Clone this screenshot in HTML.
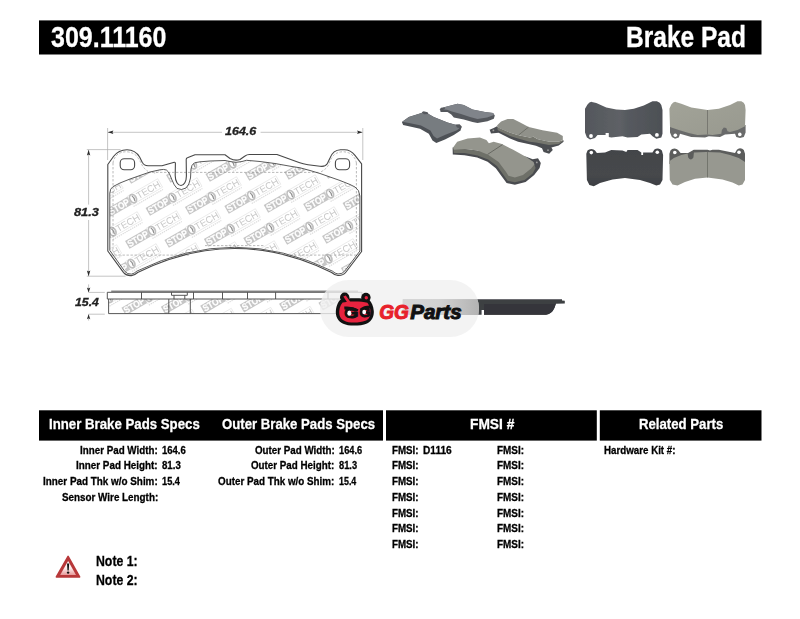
<!DOCTYPE html>
<html>
<head>
<meta charset="utf-8">
<title>309.11160 Brake Pad</title>
<style>
html,body{margin:0;padding:0;background:#fff;}
body{width:800px;height:619px;position:relative;overflow:hidden;font-family:"Liberation Sans",sans-serif;color:#000;}
.abs{position:absolute;}
.bar{position:absolute;background:#000;}
.t{position:absolute;white-space:nowrap;font-weight:bold;line-height:1;transform-origin:0 0;-webkit-text-stroke:.3px currentColor;}
</style>
</head>
<body>
<svg class="abs" style="left:0;top:0;filter:blur(.35px)" width="800" height="400" viewBox="0 0 800 400">
<defs>
  <path id="padout" d="M107.8 251 L107.8 164.5 L113.5 156.5 C116.5 152.4 121 149.7 127 149.7 C132.6 149.7 137 152.6 139.6 157 L142.2 162.2 Q144 165.6 148 165.8 L162 165.8 L174.3 162.3 Q175.4 162.1 175.4 163.6 L175.2 175.6 C175.2 181.4 178 185.5 181 185.5 C184 185.5 186.4 181.4 186.4 176 L186.2 159.6 Q186.2 158.2 187.4 157.8 L195 154.8 L225 154.8 L230 158.5 Q235 161.2 240 159.5 L245 156 Q247 154.5 249.4 154.5 L277 154.5 L299 162.6 Q303 164 308 164.7 L320 166.3 Q325.6 167 327.4 163.6 L330 158 C332 153 336 150 340.5 149.8 L344.5 149.7 C349.5 149.7 352.6 152.4 355 155.4 L361.6 163.8 L361.6 251.5 L346 272 Q343 275.8 338 275.5 Q334.4 275 331.65 272.5 Q234.65 224.5 137.65 272.5 Q135 275 131.4 275.6 Q126.6 276 123.6 272.6 Z"/>
  <path id="padin" d="M109.8 250.4 L109.8 193 Q110 188.6 113 186.6 L120 183 L130 179 L140 175.5 L150 172 L160 169.8 Q164 169 166.4 170 Q168.6 171.4 170 175 L172 180 Q174 185.4 177 188.4 Q181.5 190.8 186 188 Q189.4 185 190.5 178 L191 169 Q191.4 164.6 194.5 162.8 L200 161.8 L210 161 L225 160.5 L230 161.5 Q236 163.2 242 161.5 L246.5 160.3 L260 161.5 L275 163.5 L290 166.2 L300 167.8 L310 170.5 L320 173.5 L330 177 L340 180.5 L350 184.5 L355 187 Q359.4 189.6 359.9 196 L359.9 251 L344.8 271 Q342.4 274.2 338 274 Q335 273.6 332.4 271.1 Q234.65 223.4 136.9 271.1 Q134 273.8 131.4 274.1 Q127.4 274.4 124.9 271.5 Z"/>
  <clipPath id="padclip"><use href="#padin"/></clipPath>
  <clipPath id="sideclip"><rect x="108.6" y="299" width="252.2" height="14.6"/></clipPath>
  <g id="wm">
    <rect x="0" y="-7.3" width="24.6" height="8.9" fill="#c6c6c6"/>
    <text x="1" y="0.3" font-family="Liberation Sans, sans-serif" font-weight="bold" font-size="9.4" fill="#fff" stroke="#fff" stroke-width=".25" textLength="22.6" lengthAdjust="spacingAndGlyphs">STOP</text>
    <rect x="24.6" y="-7.8" width="35.2" height="9.8" fill="none" stroke="#dadada" stroke-width=".5"/>
    <ellipse cx="28.5" cy="-2.9" rx="3.2" ry="4.4" fill="#fff" stroke="#c0c0c0" stroke-width="1.7"/>
    <path d="M28.9 -6 Q30.4 -2.9 28.9 0.2" stroke="#909090" stroke-width="1" fill="none"/>
    <text x="33.2" y="0.5" font-family="Liberation Sans, sans-serif" font-size="9.6" fill="#c9c9c9" textLength="26" lengthAdjust="spacingAndGlyphs">TECH</text>
    <path d="M25 4.2 L59 4.2" stroke="#dcdcdc" stroke-width="1.2" stroke-dasharray="1.4 .8"/>
  </g>
</defs>
<g clip-path="url(#padclip)"><use href="#wm" transform="translate(68.8 281.4) rotate(-30)"/><use href="#wm" transform="translate(87.7 313.4) rotate(-30)"/><use href="#wm" transform="translate(70.4 216.4) rotate(-30)"/><use href="#wm" transform="translate(89.3 248.4) rotate(-30)"/><use href="#wm" transform="translate(108.2 280.4) rotate(-30)"/><use href="#wm" transform="translate(127.1 312.4) rotate(-30)"/><use href="#wm" transform="translate(146.0 344.4) rotate(-30)"/><use href="#wm" transform="translate(72.0 151.4) rotate(-30)"/><use href="#wm" transform="translate(90.9 183.4) rotate(-30)"/><use href="#wm" transform="translate(109.8 215.4) rotate(-30)"/><use href="#wm" transform="translate(128.7 247.4) rotate(-30)"/><use href="#wm" transform="translate(147.6 279.4) rotate(-30)"/><use href="#wm" transform="translate(166.5 311.4) rotate(-30)"/><use href="#wm" transform="translate(185.4 343.4) rotate(-30)"/><use href="#wm" transform="translate(111.4 150.4) rotate(-30)"/><use href="#wm" transform="translate(130.3 182.4) rotate(-30)"/><use href="#wm" transform="translate(149.2 214.4) rotate(-30)"/><use href="#wm" transform="translate(168.1 246.4) rotate(-30)"/><use href="#wm" transform="translate(187.0 278.4) rotate(-30)"/><use href="#wm" transform="translate(205.9 310.4) rotate(-30)"/><use href="#wm" transform="translate(224.8 342.4) rotate(-30)"/><use href="#wm" transform="translate(150.8 149.4) rotate(-30)"/><use href="#wm" transform="translate(169.7 181.4) rotate(-30)"/><use href="#wm" transform="translate(188.6 213.4) rotate(-30)"/><use href="#wm" transform="translate(207.5 245.4) rotate(-30)"/><use href="#wm" transform="translate(226.4 277.4) rotate(-30)"/><use href="#wm" transform="translate(245.3 309.4) rotate(-30)"/><use href="#wm" transform="translate(264.2 341.4) rotate(-30)"/><use href="#wm" transform="translate(190.2 148.4) rotate(-30)"/><use href="#wm" transform="translate(209.1 180.4) rotate(-30)"/><use href="#wm" transform="translate(228.0 212.4) rotate(-30)"/><use href="#wm" transform="translate(246.9 244.4) rotate(-30)"/><use href="#wm" transform="translate(265.8 276.4) rotate(-30)"/><use href="#wm" transform="translate(284.7 308.4) rotate(-30)"/><use href="#wm" transform="translate(303.6 340.4) rotate(-30)"/><use href="#wm" transform="translate(229.6 147.4) rotate(-30)"/><use href="#wm" transform="translate(248.5 179.4) rotate(-30)"/><use href="#wm" transform="translate(267.4 211.4) rotate(-30)"/><use href="#wm" transform="translate(286.3 243.4) rotate(-30)"/><use href="#wm" transform="translate(305.2 275.4) rotate(-30)"/><use href="#wm" transform="translate(324.1 307.4) rotate(-30)"/><use href="#wm" transform="translate(343.0 339.4) rotate(-30)"/><use href="#wm" transform="translate(269.0 146.4) rotate(-30)"/><use href="#wm" transform="translate(287.9 178.4) rotate(-30)"/><use href="#wm" transform="translate(306.8 210.4) rotate(-30)"/><use href="#wm" transform="translate(325.7 242.4) rotate(-30)"/><use href="#wm" transform="translate(344.6 274.4) rotate(-30)"/><use href="#wm" transform="translate(363.5 306.4) rotate(-30)"/><use href="#wm" transform="translate(308.4 145.4) rotate(-30)"/><use href="#wm" transform="translate(327.3 177.4) rotate(-30)"/><use href="#wm" transform="translate(346.2 209.4) rotate(-30)"/><use href="#wm" transform="translate(365.1 241.4) rotate(-30)"/><use href="#wm" transform="translate(347.8 144.4) rotate(-30)"/><use href="#wm" transform="translate(366.7 176.4) rotate(-30)"/></g>
<g clip-path="url(#sideclip)"><g transform="translate(-2 1.6)"><use href="#wm" transform="translate(68.8 281.4) rotate(-30)"/><use href="#wm" transform="translate(87.7 313.4) rotate(-30)"/><use href="#wm" transform="translate(70.4 216.4) rotate(-30)"/><use href="#wm" transform="translate(89.3 248.4) rotate(-30)"/><use href="#wm" transform="translate(108.2 280.4) rotate(-30)"/><use href="#wm" transform="translate(127.1 312.4) rotate(-30)"/><use href="#wm" transform="translate(146.0 344.4) rotate(-30)"/><use href="#wm" transform="translate(72.0 151.4) rotate(-30)"/><use href="#wm" transform="translate(90.9 183.4) rotate(-30)"/><use href="#wm" transform="translate(109.8 215.4) rotate(-30)"/><use href="#wm" transform="translate(128.7 247.4) rotate(-30)"/><use href="#wm" transform="translate(147.6 279.4) rotate(-30)"/><use href="#wm" transform="translate(166.5 311.4) rotate(-30)"/><use href="#wm" transform="translate(185.4 343.4) rotate(-30)"/><use href="#wm" transform="translate(111.4 150.4) rotate(-30)"/><use href="#wm" transform="translate(130.3 182.4) rotate(-30)"/><use href="#wm" transform="translate(149.2 214.4) rotate(-30)"/><use href="#wm" transform="translate(168.1 246.4) rotate(-30)"/><use href="#wm" transform="translate(187.0 278.4) rotate(-30)"/><use href="#wm" transform="translate(205.9 310.4) rotate(-30)"/><use href="#wm" transform="translate(224.8 342.4) rotate(-30)"/><use href="#wm" transform="translate(150.8 149.4) rotate(-30)"/><use href="#wm" transform="translate(169.7 181.4) rotate(-30)"/><use href="#wm" transform="translate(188.6 213.4) rotate(-30)"/><use href="#wm" transform="translate(207.5 245.4) rotate(-30)"/><use href="#wm" transform="translate(226.4 277.4) rotate(-30)"/><use href="#wm" transform="translate(245.3 309.4) rotate(-30)"/><use href="#wm" transform="translate(264.2 341.4) rotate(-30)"/><use href="#wm" transform="translate(190.2 148.4) rotate(-30)"/><use href="#wm" transform="translate(209.1 180.4) rotate(-30)"/><use href="#wm" transform="translate(228.0 212.4) rotate(-30)"/><use href="#wm" transform="translate(246.9 244.4) rotate(-30)"/><use href="#wm" transform="translate(265.8 276.4) rotate(-30)"/><use href="#wm" transform="translate(284.7 308.4) rotate(-30)"/><use href="#wm" transform="translate(303.6 340.4) rotate(-30)"/><use href="#wm" transform="translate(229.6 147.4) rotate(-30)"/><use href="#wm" transform="translate(248.5 179.4) rotate(-30)"/><use href="#wm" transform="translate(267.4 211.4) rotate(-30)"/><use href="#wm" transform="translate(286.3 243.4) rotate(-30)"/><use href="#wm" transform="translate(305.2 275.4) rotate(-30)"/><use href="#wm" transform="translate(324.1 307.4) rotate(-30)"/><use href="#wm" transform="translate(343.0 339.4) rotate(-30)"/><use href="#wm" transform="translate(269.0 146.4) rotate(-30)"/><use href="#wm" transform="translate(287.9 178.4) rotate(-30)"/><use href="#wm" transform="translate(306.8 210.4) rotate(-30)"/><use href="#wm" transform="translate(325.7 242.4) rotate(-30)"/><use href="#wm" transform="translate(344.6 274.4) rotate(-30)"/><use href="#wm" transform="translate(363.5 306.4) rotate(-30)"/><use href="#wm" transform="translate(308.4 145.4) rotate(-30)"/><use href="#wm" transform="translate(327.3 177.4) rotate(-30)"/><use href="#wm" transform="translate(346.2 209.4) rotate(-30)"/><use href="#wm" transform="translate(365.1 241.4) rotate(-30)"/><use href="#wm" transform="translate(347.8 144.4) rotate(-30)"/><use href="#wm" transform="translate(366.7 176.4) rotate(-30)"/></g></g>
<!-- dashed construction lines -->
<g fill="none" stroke="#959595" stroke-width=".65" stroke-dasharray="2.4 1.6">
  <path d="M148 172.4 L320 172.4"/>
  <path d="M113 163 L113 251"/>
  <path d="M356.4 163 L356.4 251"/>
  <path d="M110.5 255.1 L189 255.1 M290 255.1 L359 255.1"/>
  <path d="M205 245.6 L264 245.6"/>
  <path d="M113 163 Q113.6 158 118 154 Q122 151.6 127 151.8 Q133 152.4 136.6 156 Q139.4 159.6 141 163 Q143.6 168.6 148 171.4"/>
  <path d="M356.4 163 Q355.6 158 351 154 Q347 151.6 342 151.8 Q336 152.4 333 156 Q330.4 159.6 329 164 Q326.6 169.4 320 172.2"/>
</g>
<!-- outlines -->
<g fill="none" stroke="#484848" stroke-width="1.1" stroke-linejoin="round">
  <use href="#padout"/>
  <use href="#padin" stroke-width=".9"/>
  <rect x="120.2" y="158.7" width="14.4" height="11" rx="4" ry="4"/>
  <rect x="335.4" y="158.7" width="14.2" height="11" rx="4" ry="4"/>
</g>
<g fill="none" stroke="#444" stroke-width=".9">
  <path d="M111.2 291.3 L358 291.3" stroke="#8a8a8a" stroke-width="1.5"/>
  <path d="M107.3 292.3 L362 292.3 L362 299 L107.3 299 Z"/>
  <path d="M108.6 299 L108.6 313.6 L360.8 313.6 L360.8 299"/>
  <path d="M141.5 292.3 L141.5 299 M193.5 292.3 L193.5 299 M222.5 292.3 L222.5 299 M247.5 292.3 L247.5 299 M275.6 292.3 L275.6 299 M328 292.3 L328 299"/>
  <path d="M171.5 292.3 L171.5 295.3 L187.3 295.3 L187.3 292.3 M174 295.3 L174 299 M184.8 295.3 L184.8 299"/>
  <path d="M168.8 299 L168.8 313.6 M190.3 299 L190.3 313.6"/>
</g>

<g fill="none" stroke="#acacac" stroke-width=".7">
  <path d="M108 132.3 L222 132.3 M260.6 132.3 L362.4 132.3"/>
  <path d="M107.6 128 L107.6 160 M362.8 128 L362.8 160"/>
  <path d="M88.6 150 L88.6 204.6 M88.6 220 L88.6 276"/>
  <path d="M86.8 149.6 L120.6 149.6 M86.8 276.2 L125.6 276.2"/>
  <path d="M88.6 284.4 L88.6 292 M88.6 314.4 L88.6 320.6"/>
  <path d="M88.6 292.4 L104.8 292.4 M88.6 314.2 L104.8 314.2"/>
</g>
<g fill="#2a2a2a" stroke="none">
  <path d="M107.8 132.3 L113.4 130.6 L112.4 132.3 L113.4 134 Z"/>
  <path d="M362.6 132.3 L357 130.6 L358 132.3 L357 134 Z"/>
  <path d="M88.6 149.8 L86.9 155.4 L88.6 154.4 L90.3 155.4 Z"/>
  <path d="M88.6 276.2 L86.9 270.6 L88.6 271.6 L90.3 270.6 Z"/>
  <path d="M88.6 292.4 L86.9 287.4 L88.6 288.4 L90.3 287.4 Z"/>
  <path d="M88.6 314.2 L86.9 319.2 L88.6 318.2 L90.3 319.2 Z"/>
</g>

</svg>

<svg class="abs" style="left:0;top:0" width="800" height="400" viewBox="0 0 800 400">
<defs>
  <filter id="soft" x="-5%" y="-5%" width="110%" height="110%"><feGaussianBlur stdDeviation="0.55"/></filter>
  <linearGradient id="gE" x1="0" y1="0" x2="1" y2="0"><stop offset="0" stop-color="#54575c"/><stop offset=".45" stop-color="#5e6166"/><stop offset=".55" stop-color="#565a5f"/><stop offset="1" stop-color="#4d5055"/></linearGradient>
  <linearGradient id="gG" x1="0" y1="0" x2="0" y2="1"><stop offset="0" stop-color="#434549"/><stop offset=".7" stop-color="#46484c"/><stop offset="1" stop-color="#3c3e41"/></linearGradient>
  <linearGradient id="gF" x1="0" y1="0" x2="1" y2="1"><stop offset="0" stop-color="#a2a398"/><stop offset="1" stop-color="#98998f"/></linearGradient>
</defs>
<g filter="url(#soft)">
<!-- Pad B (upper dark, perspective) -->
<path d="M440 109.4 L445 106.9 L457.5 103.8 L463.8 105 L472.5 109.4 L485 111.9 L493.1 113.1 L494.8 115.6 L493.8 118.8 L487.5 121.3 L477.5 123.1 L472.5 121.9 L463.8 119.4 L453.8 117.5 L451.3 114.4 L447.5 111.9 L440.6 111.9 Z" fill="#55585d"/>
<path d="M441 109.2 L445 106.9 L457.5 103.8 L463.8 105 L472.5 109.4 L485 111.9 L493.1 113.1 L494 115 L487 117.6 L477.5 119 L470 117 L461 114 L452 111.6 L447 109.8 Z" fill="#80848a"/>
<!-- Pad A (left dark, perspective) -->
<path d="M401.9 121.9 L408.8 116.9 L423.1 112.5 L428.1 113.8 L433.8 116.9 L447.5 122.5 L456.3 125 L461.3 126.9 L460.6 130.6 L453.8 135 L445 139.4 L436.3 143.1 L432.5 140.6 L428.8 133.8 L420 128.8 L408.8 126.3 L403.1 125 Z" fill="#4e5156"/>
<path d="M402.2 121.8 L408.8 116.9 L423.1 112.5 L428.1 113.8 L433.8 116.9 L447.5 122.5 L456.3 125 L460.8 126.9 L457 130.2 L446 134.6 L437 138.4 L433.6 136 L430.4 130.4 L421 125.4 L409 123 Z" fill="#777b80"/>
<path d="M421.6 112.2 L423.6 111.2 L427.6 112.2 L428.4 114 L424 114.2 Z" fill="#55585d"/>
<path d="M455.4 124.4 L459.6 124.2 L461.8 126.4 L461.2 128.4 L457 127.4 Z" fill="#55585d"/>
<path d="M439.6 109.6 L441 107.8 L444.4 107.2 L445.2 108.6 L442 110.6 Z" fill="#55585d"/>
<!-- Pad C (right, friction up) -->
<path d="M490.2 129.5 L493.7 127.9 L497 126.2 L499 128 L510 133 L518 135.6 L529.5 138 L537.6 139.6 L549 142 L558.7 142 L563.4 140.6 L563.6 141.7 L558.7 145.6 L551.4 147.4 L552.8 150 L549.2 153.8 L543.6 152 L542 148.2 L536 145.8 L529.5 144.2 L518.1 141.8 L510 138.5 L498.6 132.8 L491 133.4 L489.6 129.6 Z" fill="#4b4d51"/>
<path d="M497 126 L498.6 127.9 L510 132.7 L518.1 135.2 L529.5 137.6 L533.6 136.8 L537.6 139.2 L549 141.7 L558.7 141.7 L563.3 140 L563.3 140.9 L558.7 144.1 L549 144.9 L536 142.5 L529.5 141.7 L518.1 138.4 L510 136 L497.8 130.3 Z" fill="#75766e"/>
<path d="M497 125.4 L501.1 121.4 L507.6 118.9 L513.2 118.9 L519.7 122.2 L528.7 127.1 L542.5 130.3 L557.1 132.7 L562.8 136 L562.8 140.1 L558.7 141.7 L549 141.7 L537.6 139.2 L533.6 136.8 L529.5 137.6 L518.1 135.2 L510 132.7 L498.6 127.9 Z" fill="#90918a"/>
<path d="M528.4 127.2 L518.6 135" stroke="#5f6059" stroke-width=".7" fill="none"/>
<circle cx="493.4" cy="130.4" r=".9" fill="#9c9c9c"/><circle cx="548" cy="150.2" r=".9" fill="#9c9c9c"/>
<!-- Pad D (front, friction up) -->
<path d="M452.6 147.4 L452.8 154.4 L464.5 155.2 L477.2 157.6 L487.6 161.8 L495.8 168.2 L502.2 177 L506.6 183 L514.9 184.8 L525.6 182 L534.2 175 L539.6 168 L540.8 163 L538 158.2 L532.7 159.2 L526.2 156.8 Z" fill="#4a4c4f"/>
<path d="M453.1 147.4 L453.9 153.1 L464.5 153.1 L477.5 155.5 L488.1 159.6 L497 166.1 L503.5 175 L507.6 180.7 L514.9 182.3 L524.6 179.9 L532.7 173.4 L535.6 168 L534.4 164.4 L526.2 157.1 Z" fill="#6e6f68"/>
<path d="M453.1 147.4 L457.2 141.7 L467.7 138.4 L479.9 137.6 L486.4 140.1 L488.9 143.3 L493.7 141.7 L501.9 144.1 L513.2 149.8 L526.2 157.1 L533.6 162 L534.4 164.4 L531.1 168.5 L523 175 L514.9 177.4 L508.4 175.8 L505.9 171.7 L498.6 162 L488.1 154.7 L477.5 150.6 L464.5 149 L453.9 149.8 Z" fill="#94958d"/>
<path d="M502.5 144.6 L487.6 154.4" stroke="#5c5d57" stroke-width=".8" fill="none"/>
<circle cx="536.8" cy="162.4" r=".9" fill="#9c9c9c"/>
<!-- Pad E (top-left of flat group) -->
<path d="M585 108.8 L587.5 104.4 Q589.6 101.6 591.9 101.9 L596.3 103.1 L606.3 107.5 L616.3 109.4 L625 110 L633.8 108.8 L643.8 105.6 L652.5 101.3 L656.9 101.3 Q660.4 102.6 661.3 105 L662.5 110 L662.5 133.8 L661.3 137.5 L656.3 138.8 L652.5 136.3 L650 133.8 L641.3 134.4 L637.5 136.9 L627.5 137.5 L622.5 136.3 L611.3 137.5 L608.8 136.9 L608.8 133.1 L605.6 133.1 L605.6 135 L597.5 135 L595 138.1 L590 139.4 L586.9 137.5 L585 132.5 Z" fill="url(#gE)"/>
<circle cx="591" cy="136" r="1.9" fill="#fff"/><circle cx="656.9" cy="134.9" r="1.9" fill="#fff"/>
<!-- Pad F (top-right, friction) -->
<path d="M670 126 L670 132.5 L671.9 136.9 L675 138.8 L678.8 137.5 L680 133.8 L691.3 136.9 L705 137.5 L708.8 136.3 L720 136.9 L725 134.4 L735 133.8 L736.3 136.9 L740 138.1 L743.8 136.9 L745.6 132.5 L745.6 125 Z" fill="#696b6a"/>
<path d="M669.4 108.8 L671.3 104.4 Q673.4 101.6 675.6 101.9 L681.3 103.8 L691.3 107.5 L707.5 110 L718.8 108.8 L730 105 L737.5 101.3 L741.3 101.3 Q744.2 102.4 745 105 L745.6 110 L745 126.3 L737.5 130 L730 131.9 L727.5 131.3 L726.3 128.1 L723.8 127.5 L721.9 130 L721.3 133.8 L712.5 135 L707.5 134.4 L697.5 135 L688.8 133.1 L678.8 130 L670 126.9 Z" fill="url(#gF)"/>
<path d="M707.5 110 L707.5 134.4" stroke="#6e6f68" stroke-width=".8" fill="none"/>
<circle cx="675.3" cy="135.2" r="1.8" fill="#fff"/><circle cx="739.8" cy="134.4" r="1.8" fill="#fff"/>
<!-- Pad G (bottom-left, dark) -->
<path d="M586.3 153.8 L587.5 150.6 Q589 149 591.3 149 Q593.8 149.2 595 150.6 L596.9 153.1 L605 152.5 L611.3 150 L622.5 150.6 L626.3 151.9 L627.5 150 L637.5 150 L641.3 152.5 L641.3 155 L643.1 155 L643.1 152.5 L652.5 152.5 L654.4 149.4 Q656 148.4 658.1 148.5 Q660.6 149 661.9 150.6 L663.1 155 L662.5 180 L660 184.4 L656.3 185.6 L650 183.1 L640 180 L625 178.1 L612.5 179.4 L600 183.1 L593.8 186.3 L589.4 185 L586.9 180 Z" fill="url(#gG)"/>
<circle cx="591.3" cy="152.6" r="1.8" fill="#fff"/><circle cx="657.3" cy="152.3" r="1.8" fill="#fff"/>
<!-- Pad H (bottom-right, friction) -->
<path d="M669.4 153.8 L670.6 150.3 Q672 148.6 674.4 148.5 Q676.8 148.8 678.1 150 L680.6 153.1 L688.1 153.1 L692.5 150.6 L693.8 149.8 L707.5 149.8 L710 150.6 L712.5 149.8 L718.8 149.8 L735 153.1 L736.9 149.8 Q738.2 148.4 740 148.3 Q742.4 148.6 743.8 150 L745 153.8 L745 164 L669.4 164 Z" fill="#5b5d5c"/>
<path d="M669.4 161.3 L673.8 158.1 L681.3 155 L687.6 153.6 L688.2 157.6 Q690.8 161.6 693.4 157.6 L693.9 152.4 L706.3 151.9 L720 152.5 L730 155 L738.8 158.1 L745 161.9 L745 180 L742.5 184.4 L738.8 185.6 L732.5 182.5 L722.5 179.4 L707.5 177.5 L695 178.8 L685 181.9 L677.5 185.6 L672.5 184.4 L669.8 180 Z" fill="#979890"/>
<path d="M707.5 151.6 L707.5 177.5" stroke="#6a6b64" stroke-width=".8" fill="none"/>
<circle cx="674.8" cy="152.5" r="1.8" fill="#fff"/><circle cx="739" cy="152.3" r="1.8" fill="#fff"/>
<!-- side profile photo -->
<path d="M403 299.2 L562 299.2 L562 300.6 L564.8 300.8 L564.8 303.4 L556 303.8 L554.4 308 Q552 313.6 546 314.8 L484 314.8 L484 310 L481.6 310 L481.6 314.8 L403 314.8 Z" fill="#3d3f43"/>
<path d="M484 304 L555.6 304 L554.4 308 Q552 313.6 546 314.8 L484 314.8 Z" fill="#34363a"/>
</g>
</svg>

<div class="abs" style="left:320px;top:280.3px;width:159px;height:57px;border-radius:28.5px;background:rgba(240,240,240,.8);"></div>
<svg class="abs" style="left:0;top:0" width="800" height="400" viewBox="0 0 800 400">
<defs><linearGradient id="strip" x1="0" y1="0" x2="1" y2="0"><stop offset="0" stop-color="#d6d6d6"/><stop offset=".45" stop-color="#d2d2d2"/><stop offset="1" stop-color="#b0b0b0"/></linearGradient>
<clipPath id="pillclip"><rect x="320" y="280.3" width="159" height="57" rx="28.5" ry="28.5"/></clipPath></defs>
<rect x="402.6" y="299.2" width="80" height="15.8" fill="url(#strip)" clip-path="url(#pillclip)"/>
<g>
  <circle cx="344.7" cy="297.2" r="4.7" fill="#111"/>
  <circle cx="365.9" cy="297.5" r="4.7" fill="#111"/>
  <path d="M340 300 C336.5 304 335.4 310 336 314.5 C336.8 320 341 324 348 325.2 C354 326 362 325.6 367 323.4 C372 321 374.2 316 373.8 311 C373.4 306 371.6 302.6 369.4 300 C364 297.8 346 297.8 340 300 Z" fill="#111"/>
  <path d="M342.6 302.6 C339.8 305.8 338.9 310 339.3 314 C339.9 318.4 343 321.2 348.6 322.2 C354 323 361 322.6 365.2 320.8 C369.2 319 370.8 315.4 370.6 311.4 C370.2 307.6 369 304.8 367.4 302.8 C362 301 347.6 301 342.6 302.6 Z" fill="#e6233f"/>
  <path d="M343.3 296.6 L347.6 303 L350.4 302 L345.8 295.4 Z" fill="#e6233f"/>
  <circle cx="366.3" cy="297.8" r="1.7" fill="#e6233f"/>
  <path d="M344.2 306.6 Q352 305.8 358.6 309.4 L357 311.6 L344.4 309.6 Z" fill="#111"/>
  <path d="M370 305.6 Q363.6 305.6 359.6 309 L361.4 311 L370.2 308.4 Z" fill="#111"/>
  <text x="344.3" y="318.4" font-family="Liberation Sans, sans-serif" font-weight="bold" font-size="15" fill="#111" stroke="#111" stroke-width="1.1" textLength="14" lengthAdjust="spacingAndGlyphs">G</text>
  <text x="359.4" y="317.2" font-family="Liberation Sans, sans-serif" font-weight="bold" font-size="13.4" fill="#111" stroke="#111" stroke-width="1.1" textLength="11" lengthAdjust="spacingAndGlyphs">G</text>
  <ellipse cx="349.3" cy="313.2" rx="2" ry="2.6" fill="#fff"/>
  <ellipse cx="364.2" cy="312" rx="1.9" ry="2.3" fill="#fff"/>
</g>
<text x="379.2" y="318.8" font-family="Liberation Sans, sans-serif" font-weight="bold" font-style="italic" font-size="20.2" fill="#e8212b" stroke="#e8212b" stroke-width="1" textLength="29.6" lengthAdjust="spacingAndGlyphs">GG</text>
<text x="410.2" y="318.8" font-family="Liberation Sans, sans-serif" font-weight="bold" font-style="italic" font-size="20.2" fill="#111" stroke="#111" stroke-width="1" textLength="51.4" lengthAdjust="spacingAndGlyphs">Parts</text>
</svg>

<svg class="abs" style="left:0;top:0" width="800" height="619" viewBox="0 0 800 619">
<rect x="39" y="20.4" width="722.5" height="34.1" fill="#000"/>
<rect x="39" y="410.3" width="344" height="30.3" fill="#000"/>
<rect x="386" y="410.3" width="210.8" height="30.3" fill="#000"/>
<rect x="599.8" y="410.3" width="161.7" height="30.3" fill="#000"/>
</svg>
<div class="t" style="left:51.00px;top:22.33px;font-size:29.5px;transform:scaleX(0.8469);color:#fff;">309.11160</div>
<div class="t" style="left:626.17px;top:22.03px;font-size:29.5px;transform:scaleX(0.8314);color:#fff;">Brake Pad</div>
<div class="t" style="left:48.55px;top:415.78px;font-size:15.5px;transform:scaleX(0.8535);color:#fff;">Inner Brake Pads Specs</div>
<div class="t" style="left:222.00px;top:415.78px;font-size:15.5px;transform:scaleX(0.8499);color:#fff;">Outer Brake Pads Specs</div>
<div class="t" style="left:469.71px;top:415.78px;font-size:15.5px;transform:scaleX(0.8879);color:#fff;">FMSI #</div>
<div class="t" style="left:638.85px;top:415.78px;font-size:15.5px;transform:scaleX(0.8507);color:#fff;">Related Parts</div>
<div class="t" style="left:80.00px;top:444.79px;font-size:11px;transform:scaleX(0.8901);">Inner Pad Width:</div>
<div class="t" style="left:76.10px;top:460.49px;font-size:11px;transform:scaleX(0.8960);">Inner Pad Height:</div>
<div class="t" style="left:43.00px;top:476.19px;font-size:11px;transform:scaleX(0.8979);">Inner Pad Thk w/o Shim:</div>
<div class="t" style="left:61.50px;top:491.89px;font-size:11px;transform:scaleX(0.8951);">Sensor Wire Length:</div>
<div class="t" style="left:161.60px;top:444.79px;font-size:11px;transform:scaleX(0.8647);">164.6</div>
<div class="t" style="left:161.60px;top:460.49px;font-size:11px;transform:scaleX(0.8783);">81.3</div>
<div class="t" style="left:161.60px;top:476.19px;font-size:11px;transform:scaleX(0.8389);">15.4</div>
<div class="t" style="left:254.50px;top:444.79px;font-size:11px;transform:scaleX(0.8892);">Outer Pad Width:</div>
<div class="t" style="left:251.10px;top:460.49px;font-size:11px;transform:scaleX(0.8897);">Outer Pad Height:</div>
<div class="t" style="left:218.00px;top:476.19px;font-size:11px;transform:scaleX(0.8933);">Outer Pad Thk w/o Shim:</div>
<div class="t" style="left:338.90px;top:444.79px;font-size:11px;transform:scaleX(0.8428);">164.6</div>
<div class="t" style="left:338.90px;top:460.49px;font-size:11px;transform:scaleX(0.8454);">81.3</div>
<div class="t" style="left:338.90px;top:476.19px;font-size:11px;transform:scaleX(0.8075);">15.4</div>
<div class="t" style="left:392.00px;top:444.79px;font-size:11px;transform:scaleX(0.8881);">FMSI:</div>
<div class="t" style="left:496.60px;top:444.79px;font-size:11px;transform:scaleX(0.9018);">FMSI:</div>
<div class="t" style="left:392.00px;top:460.49px;font-size:11px;transform:scaleX(0.8881);">FMSI:</div>
<div class="t" style="left:496.60px;top:460.49px;font-size:11px;transform:scaleX(0.9018);">FMSI:</div>
<div class="t" style="left:392.00px;top:476.19px;font-size:11px;transform:scaleX(0.8881);">FMSI:</div>
<div class="t" style="left:496.60px;top:476.19px;font-size:11px;transform:scaleX(0.9018);">FMSI:</div>
<div class="t" style="left:392.00px;top:491.89px;font-size:11px;transform:scaleX(0.8881);">FMSI:</div>
<div class="t" style="left:496.60px;top:491.89px;font-size:11px;transform:scaleX(0.9018);">FMSI:</div>
<div class="t" style="left:392.00px;top:507.59px;font-size:11px;transform:scaleX(0.8881);">FMSI:</div>
<div class="t" style="left:496.60px;top:507.59px;font-size:11px;transform:scaleX(0.9018);">FMSI:</div>
<div class="t" style="left:392.00px;top:523.29px;font-size:11px;transform:scaleX(0.8881);">FMSI:</div>
<div class="t" style="left:496.60px;top:523.29px;font-size:11px;transform:scaleX(0.9018);">FMSI:</div>
<div class="t" style="left:392.00px;top:538.99px;font-size:11px;transform:scaleX(0.8881);">FMSI:</div>
<div class="t" style="left:496.60px;top:538.99px;font-size:11px;transform:scaleX(0.9018);">FMSI:</div>
<div class="t" style="left:423.40px;top:444.79px;font-size:11px;transform:scaleX(0.9201);">D1116</div>
<div class="t" style="left:604.30px;top:444.79px;font-size:11px;transform:scaleX(0.8860);">Hardware Kit #:</div>
<div class="t" style="left:96.08px;top:552.70px;font-size:15px;transform:scaleX(0.8190);">Note 1:</div>
<div class="t" style="left:96.08px;top:571.70px;font-size:15px;transform:scaleX(0.8190);">Note 2:</div>
<div class="t" style="left:225.20px;top:127.23px;font-size:10px;transform:scaleX(1.2489);color:#222;font-style:italic;">164.6</div>
<div class="t" style="left:73.80px;top:207.63px;font-size:10px;transform:scaleX(1.2763);color:#222;font-style:italic;">81.3</div>
<div class="t" style="left:75.20px;top:297.94px;font-size:10px;transform:scaleX(1.2260);color:#222;font-style:italic;">15.4</div>
<svg class="abs" style="left:50px;top:550px" width="40" height="34" viewBox="50 550 40 34">
<defs><linearGradient id="tri" x1="0" y1="0" x2="0" y2="1"><stop offset="0" stop-color="#ffffff"/><stop offset=".55" stop-color="#fbe9e9"/><stop offset="1" stop-color="#e89a9a"/></linearGradient></defs>
<path d="M68.1 556.4 L79.6 577 L56.4 577 Z" fill="#b8383a" stroke="#b8383a" stroke-width="1.6" stroke-linejoin="round"/>
<path d="M68.1 561 L76 574.9 L60.2 574.9 Z" fill="url(#tri)"/>
<path d="M67 563.4 L69.2 563.4 L68.7 570.6 L67.5 570.6 Z" fill="#111"/>
<circle cx="68.1" cy="572.6" r="1.2" fill="#111"/>
</svg>

</body>
</html>
